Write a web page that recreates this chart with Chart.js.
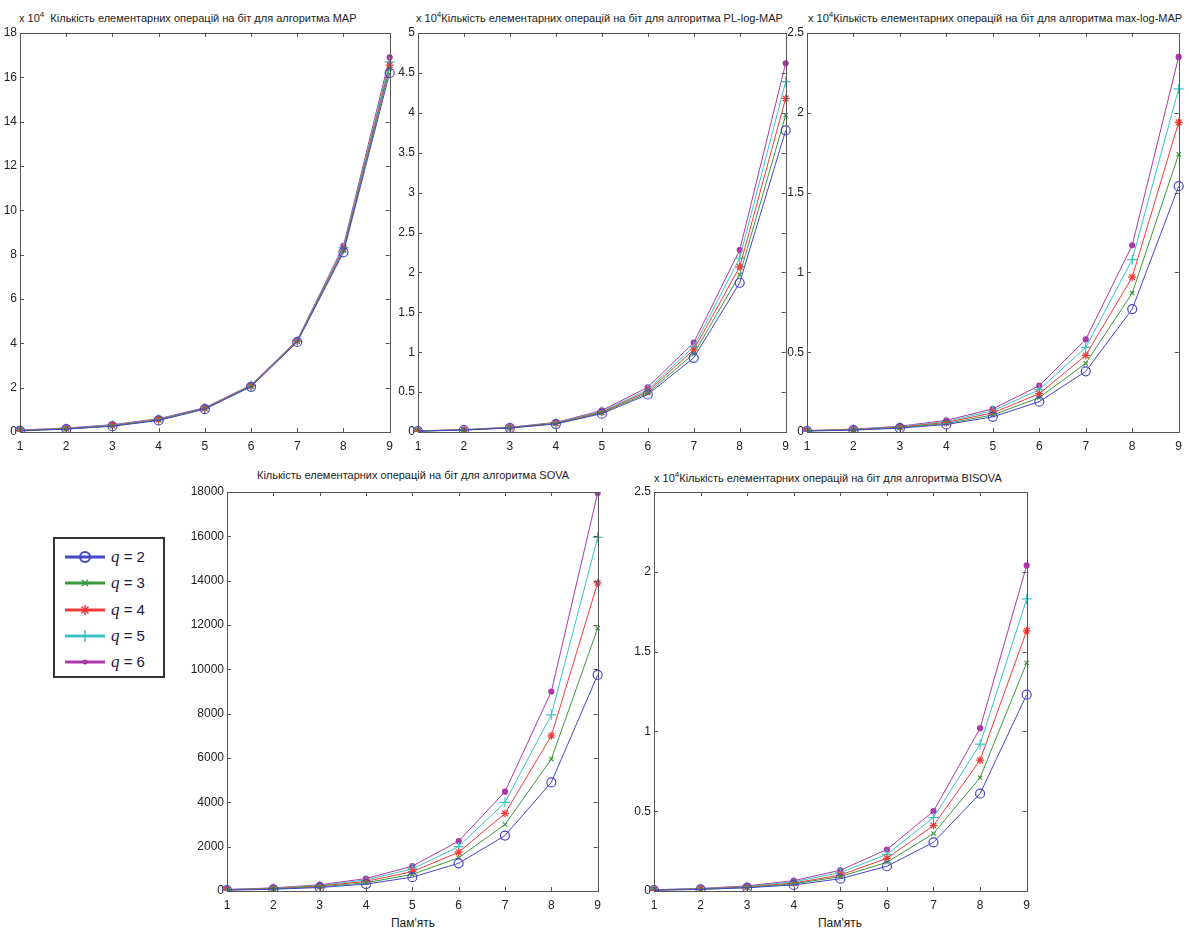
<!DOCTYPE html>
<html><head><meta charset="utf-8">
<script src="https://cdn.jsdelivr.net/npm/chart.js@4/dist/chart.umd.min.js"></script>
<style>
html,body{margin:0;padding:0;background:#fff;}
body{width:1189px;height:933px;position:relative;overflow:hidden;font-family:"Liberation Sans",Arial,sans-serif;}
canvas{position:absolute;}
.ttl{position:absolute;white-space:nowrap;font-size:11px;color:#222;line-height:12px;transform-origin:0 50%;}
.ttl sup{font-size:8px;vertical-align:5px;}
.xl{position:absolute;font-size:12px;color:#222;white-space:nowrap;transform:translateX(-50%);}
#legend{position:absolute;left:53px;top:537px;width:108px;height:137px;border:2px solid #333;background:#fff;}
.lrow{position:absolute;left:8px;height:20px;}
.lrow span{position:absolute;left:48px;top:0;font-size:15px;line-height:20px;color:#1a1a40;white-space:nowrap;font-family:"Liberation Sans",Arial,sans-serif;}
.lrow i{font-family:"Liberation Serif",serif;font-size:17px;}
</style></head>
<body>
<div class="ttl" style="left:19px;top:9px">x 10<sup>4</sup>&nbsp; Кількість елементарних операцій на біт для алгоритма MAP</div>
<div class="ttl" style="left:416px;top:9px">x 10<sup>4</sup>Кількість елементарних операцій на біт для алгоритма PL-log-MAP</div>
<div class="ttl" style="left:808px;top:9px">x 10<sup>4</sup>Кількість елементарних операцій на біт для алгоритма max-log-MAP</div>
<div class="ttl" style="left:257px;top:469px">Кількість елементарних операцій на біт для алгоритма SOVA</div>
<div class="ttl" style="left:654px;top:469px">x 10<sup>4</sup>Кількість елементарних операцій на біт для алгоритма BISOVA</div>
<div class="xl" style="left:413px;top:916px">Пам'ять</div>
<div class="xl" style="left:840px;top:916px">Пам'ять</div>
<div id="legend"></div>
<canvas id="c1"></canvas><canvas id="c2"></canvas><canvas id="c3"></canvas><canvas id="c4"></canvas><canvas id="c5"></canvas>
<script>
// ---- data ----
const memory = ['1','2','3','4','5','6','7','8','9'];
const qLabels = ['q = 2','q = 3','q = 4','q = 5','q = 6'];

// MAP (x10^4)
const mapQ2 = [0.05, 0.13, 0.26, 0.52, 1.03, 2.04, 4.06, 8.10, 16.2];
const mapQ3 = [0.06, 0.14, 0.27, 0.54, 1.05, 2.06, 4.08, 8.18, 16.4];
const mapQ4 = [0.07, 0.15, 0.29, 0.56, 1.06, 2.08, 4.10, 8.25, 16.55];
const mapQ5 = [0.08, 0.16, 0.31, 0.58, 1.08, 2.10, 4.12, 8.32, 16.7];
const mapQ6 = [0.09, 0.18, 0.33, 0.60, 1.10, 2.12, 4.15, 8.40, 16.9];

// PL-log-MAP (x10^4)
const plQ2 = [0.010, 0.025, 0.050, 0.100, 0.23, 0.47, 0.93, 1.87, 3.78];
const plQ3 = [0.011, 0.026, 0.052, 0.105, 0.24, 0.49, 0.98, 1.97, 3.97];
const plQ4 = [0.012, 0.027, 0.055, 0.110, 0.25, 0.51, 1.03, 2.07, 4.18];
const plQ5 = [0.013, 0.028, 0.058, 0.115, 0.26, 0.53, 1.07, 2.18, 4.39];
const plQ6 = [0.015, 0.030, 0.060, 0.120, 0.27, 0.56, 1.12, 2.28, 4.62];

// max-log-MAP (x10^4)
const mlQ2 = [0.006, 0.012, 0.024, 0.047, 0.095, 0.190, 0.38, 0.77, 1.54];
const mlQ3 = [0.007, 0.013, 0.027, 0.053, 0.107, 0.215, 0.43, 0.87, 1.74];
const mlQ4 = [0.008, 0.015, 0.030, 0.060, 0.120, 0.240, 0.48, 0.97, 1.94];
const mlQ5 = [0.008, 0.017, 0.033, 0.066, 0.133, 0.265, 0.53, 1.08, 2.15];
const mlQ6 = [0.009, 0.018, 0.036, 0.073, 0.145, 0.290, 0.58, 1.17, 2.35];

// SOVA
const sovaQ2 = [39, 78, 156, 312, 625, 1250, 2500, 4900, 9750];
const sovaQ3 = [47, 94, 188, 375, 750, 1500, 3000, 5950, 11850];
const sovaQ4 = [55, 110, 219, 437, 875, 1750, 3500, 7000, 13900];
const sovaQ5 = [62, 125, 250, 500, 1000, 2000, 4000, 7950, 15950];
const sovaQ6 = [70, 140, 280, 560, 1120, 2250, 4480, 9000, 17950];

// BISOVA (x10^4)
const bisQ2 = [0.005, 0.010, 0.020, 0.038, 0.077, 0.155, 0.305, 0.61, 1.23];
const bisQ3 = [0.006, 0.011, 0.022, 0.045, 0.090, 0.180, 0.360, 0.71, 1.43];
const bisQ4 = [0.006, 0.013, 0.025, 0.050, 0.100, 0.205, 0.410, 0.82, 1.63];
const bisQ5 = [0.007, 0.014, 0.028, 0.058, 0.115, 0.230, 0.460, 0.92, 1.83];
const bisQ6 = [0.008, 0.016, 0.032, 0.065, 0.130, 0.260, 0.500, 1.02, 2.04];

// ---- styles ----
const colors = ['#4646c8', '#3c9a3c', '#f03a3a', '#3cc4c4', '#aa38aa'];
const pStyles = ['circle', 'crossRot', 'star', 'cross', 'circle'];
const pRadius = [4.5, 3, 4, 5, 2.5];
const pFill = ['rgba(0,0,0,0)', colors[1], colors[2], colors[3], colors[4]];

function makeDatasets(series){
  return series.map((d,i)=>({
    label: qLabels[i], data: d,
    borderColor: colors[i], borderWidth: 1, tension: 0,
    pointStyle: pStyles[i], pointRadius: pRadius[i],
    pointBorderColor: colors[i], pointBackgroundColor: pFill[i], pointBorderWidth: 1.2,
    fill: false
  }));
}

const boxPlugin = {
  id: 'box',
  afterDraw(chart){
    const {ctx, chartArea: a, scales} = chart;
    ctx.save();
    ctx.strokeStyle = '#555'; ctx.lineWidth = 1;
    ctx.strokeRect(Math.round(a.left)+0.5, Math.round(a.top)+0.5, Math.round(a.right-a.left), Math.round(a.bottom-a.top));
    const L = 4;
    ctx.beginPath();
    scales.x.ticks.forEach((t,i)=>{
      const x = Math.round(scales.x.getPixelForTick(i))+0.5;
      ctx.moveTo(x, a.bottom); ctx.lineTo(x, a.bottom-L);
      ctx.moveTo(x, a.top); ctx.lineTo(x, a.top+L);
    });
    scales.y.ticks.forEach(t=>{
      const y = Math.round(scales.y.getPixelForValue(t.value))+0.5;
      ctx.moveTo(a.left, y); ctx.lineTo(a.left+L, y);
      ctx.moveTo(a.right, y); ctx.lineTo(a.right-L, y);
    });
    ctx.stroke();
    ctx.restore();
  }
};

function makeChart(id, pos, series, yMax, yStep){
  const cv = document.getElementById(id);
  cv.width = pos.w; cv.height = pos.h;
  cv.style.left = pos.left+'px'; cv.style.top = pos.top+'px';
  cv.style.width = pos.w+'px'; cv.style.height = pos.h+'px';
  return new Chart(cv, {
    type: 'line',
    data: { labels: memory, datasets: makeDatasets(series) },
    options: {
      responsive: false, animation: false, devicePixelRatio: 1,
      layout: { padding: { top: pos.pt, right: pos.pr, bottom: pos.pb, left: 0 } },
      plugins: { legend: { display: false }, tooltip: { enabled: false } },
      scales: {
        x: {
          type: 'category', offset: false,
          grid: { display: false, drawTicks: false, tickLength: 0 }, border: { display: false },
          ticks: { autoSkip: false, maxRotation: 0, padding: 7, color: '#222', font: { family: 'Liberation Sans', size: 12 } },
          afterFit(s){ s.height = pos.xh; }
        },
        y: {
          min: 0, max: yMax,
          grid: { display: false, drawTicks: false, tickLength: 0 }, border: { display: false },
          ticks: { stepSize: yStep, padding: 3, color: '#222', font: { family: 'Liberation Sans', size: 12 },
                   callback: v => String(Math.round(v*1000)/1000) },
          afterFit(s){ s.width = pos.yw; }
        }
      }
    },
    plugins: [boxPlugin]
  });
}

makeChart('c1', {left:0, top:20, w:400, h:440, yw:20, xh:20, pt:13, pr:9, pb:8},
  [mapQ2, mapQ3, mapQ4, mapQ5, mapQ6], 18, 2);
makeChart('c2', {left:395, top:20, w:401, h:440, yw:23, xh:20, pt:13, pr:8, pb:8},
  [plQ2, plQ3, plQ4, plQ5, plQ6], 5, 0.5);
makeChart('c3', {left:785, top:20, w:404, h:440, yw:22, xh:20, pt:13, pr:7, pb:8},
  [mlQ2, mlQ3, mlQ4, mlQ5, mlQ6], 2.5, 0.5);
makeChart('c4', {left:190, top:478, w:418, h:438, yw:37, xh:20, pt:14, pr:10, pb:5},
  [sovaQ2, sovaQ3, sovaQ4, sovaQ5, sovaQ6], 18000, 2000);
makeChart('c5', {left:626, top:478, w:411, h:438, yw:28, xh:20, pt:14, pr:10, pb:5},
  [bisQ2, bisQ3, bisQ4, bisQ5, bisQ6], 2.5, 0.5);

// ---- legend (HTML + svg swatches) ----
const leg = document.getElementById('legend');
const svgMarker = (i)=>{
  const c = colors[i];
  switch(i){
    case 0: return `<circle cx="22" cy="10" r="5" fill="none" stroke="${c}" stroke-width="2"/>`;
    case 1: return `<path d="M19 7 L25 13 M25 7 L19 13" stroke="${c}" stroke-width="1.5"/>`;
    case 2: return `<path d="M22 5 L22 15 M17 10 L27 10 M18.5 6.5 L25.5 13.5 M25.5 6.5 L18.5 13.5" stroke="${c}" stroke-width="1.5"/>`;
    case 3: return `<path d="M22 4 L22 16 M16 10 L28 10" stroke="${c}" stroke-width="1.5"/>`;
    default: return `<circle cx="22" cy="10" r="2.5" fill="${c}"/>`;
  }
};
qLabels.forEach((lab,i)=>{
  const row = document.createElement('div');
  row.className = 'lrow';
  row.style.top = (8 + i*26.3)+'px';
  row.innerHTML = `<svg width="44" height="20" style="position:absolute;left:0;top:0"><line x1="2" y1="10" x2="42" y2="10" stroke="${colors[i]}" stroke-width="3"/>${svgMarker(i)}</svg><span><i>q</i> = ${lab.split('= ')[1]}</span>`;
  leg.appendChild(row);
});
</script>
</body></html>
